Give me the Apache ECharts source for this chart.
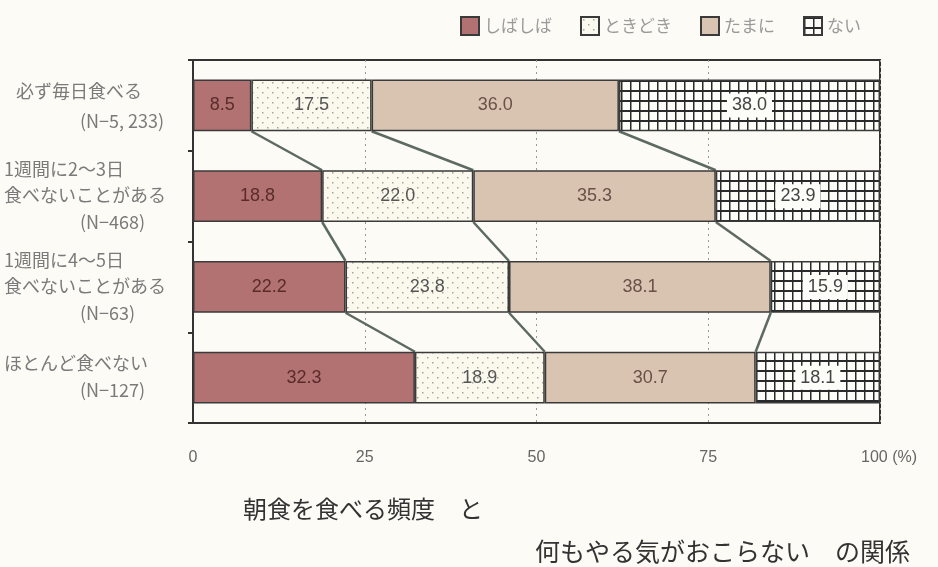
<!DOCTYPE html>
<html><head><meta charset="utf-8">
<script src="https://cdn.jsdelivr.net/npm/echarts@6/dist/echarts.min.js"></script>
<style>html,body{margin:0;padding:0;background:#fcfbf6}#c{width:938px;height:567px}</style>
</head><body><div id="c"></div>
<script>
// ---- data ----
const categories = ['必ず毎日食べる', '1週間に2〜3日食べないことがある', '1週間に4〜5日食べないことがある', 'ほとんど食べない'];
const categoryLines = [['必ず毎日食べる'], ['1週間に2〜3日', '食べないことがある'], ['1週間に4〜5日', '食べないことがある'], ['ほとんど食べない']];
const sampleSizes = ['(N−5, 233)', '(N−468)', '(N−63)', '(N−127)'];
const seriesNames = ['しばしば', 'ときどき', 'たまに', 'ない'];
const shibashiba = [8.5, 18.8, 22.2, 32.3];
const tokidoki = [17.5, 22.0, 23.8, 18.9];
const tamani = [36.0, 35.3, 38.1, 30.7];
const nai = [38.0, 23.9, 15.9, 18.1];
const xTicks = [0, 25, 50, 75, 100];
const titleLine1 = '朝食を食べる頻度　と';
const titleLine2 = '何もやる気がおこらない　の関係';

// ---- styles ----
const JP = '"Noto Sans CJK JP", "Noto Sans", sans-serif';
const NUM = '"Liberation Sans Narrow", "Liberation Sans", Arial, sans-serif';
const barRatio = 0.57;

function makeDots() {
  const c = document.createElement('canvas'); c.width = 10; c.height = 10;
  const g = c.getContext('2d');
  g.fillStyle = '#fbf9ee'; g.fillRect(0, 0, 10, 10);
  g.fillStyle = '#a5a595';
  g.fillRect(2, 2, 1.5, 1.5); g.fillRect(7, 7, 1.5, 1.5);
  return c;
}
function makeGrid() {
  const c = document.createElement('canvas'); c.width = 9; c.height = 10;
  const g = c.getContext('2d');
  g.fillStyle = '#fcfcf8'; g.fillRect(0, 0, 9, 10);
  g.fillStyle = '#2a2a2a';
  g.fillRect(0, 0, 1.5, 10);
  g.fillRect(0, 0, 9, 2);
  return c;
}
const colors = ['#b27272', { image: makeDots(), repeat: 'repeat' }, '#d9c4b2', { image: makeGrid(), repeat: 'repeat' }];
const labelColors = ['#5a2b2b', '#555', '#6a5048', '#444'];
const seriesData = [shibashiba, tokidoki, tamani, nai];

const cumulative = categories.map((_, i) => {
  let s = 0;
  return [shibashiba[i], tokidoki[i], tamani[i]].map(v => (s += v));
});
const connectorData = [];
for (let b = 0; b < 3; b++) {
  for (let i = 0; i < categories.length - 1; i++) {
    connectorData.push([cumulative[i][b], i, cumulative[i + 1][b], i + 1]);
  }
}

const barSeries = seriesNames.map((name, k) => ({
  name: name,
  type: 'bar',
  stack: 'total',
  barWidth: (barRatio * 100) + '%',
  data: seriesData[k],
  itemStyle: { color: colors[k], borderColor: '#3a3a3a', borderWidth: 1.5 },
  label: {
    show: true,
    position: 'inside',
    formatter: p => p.value.toFixed(1),
    fontFamily: NUM,
    fontSize: 18,
    color: labelColors[k],
    backgroundColor: k === 3 ? '#fcfcf8' : 'transparent',
    padding: k === 3 ? [3, 5] : 0
  },
  z: 3
}));

const chart = echarts.init(document.getElementById('c'), null, { renderer: 'canvas' });
chart.setOption({
  backgroundColor: '#fcfbf6',
  animation: false,
  title: [
    { text: titleLine1, left: 238, top: 492, textStyle: { fontFamily: JP, fontSize: 24, fontWeight: 'normal', color: '#333' } },
    { text: titleLine2, left: 530, top: 534, textStyle: { fontFamily: JP, fontSize: 25, fontWeight: 'normal', color: '#333' } }
  ],
  legend: {
    data: seriesNames,
    left: 455, top: 11,
    itemWidth: 18, itemHeight: 18, itemGap: 28,
    icon: 'rect',
    textStyle: { fontFamily: JP, fontSize: 17, color: '#9a9a9a' }
  },
  grid: { left: 193, right: 58, top: 60, bottom: 144, show: true, borderColor: '#333', borderWidth: 2, backgroundColor: 'transparent' },
  xAxis: {
    type: 'value', min: 0, max: 100, interval: 25,
    axisLine: { show: true, lineStyle: { color: '#333', width: 2 } },
    axisTick: { show: false },
    splitLine: { show: true, lineStyle: { color: '#999', type: [2, 4], width: 1 } },
    axisLabel: {
      margin: 27, fontFamily: NUM, fontSize: 16, color: '#666',
      formatter: v => v === 100 ? '{p|100 (%)}' : String(v),
      rich: { p: { fontFamily: NUM, fontSize: 16, color: '#666', padding: [0, 0, 0, 18] } }
    }
  },
  yAxis: {
    type: 'category', inverse: true, data: categories,
    axisLine: { show: true, lineStyle: { color: '#333', width: 2 } },
    axisTick: { show: true, length: 5, lineStyle: { color: '#333', width: 2 } },
    axisLabel: {
      margin: 189, align: 'left',
      formatter: (v, idx) => {
        const lines = categoryLines[idx].map(t => (idx === 0 ? '{a1|' : '{a|') + t + '}');
        lines.push('{n|' + sampleSizes[idx] + '}');
        return lines.join('\n');
      },
      rich: {
        a: { fontFamily: JP, fontSize: 18, color: '#7a7a7a', lineHeight: 26 },
        a1: { fontFamily: JP, fontSize: 18, color: '#7a7a7a', lineHeight: 32, padding: [0, 0, 0, 12] },
        n: { fontFamily: JP, fontSize: 18, color: '#7a7a7a', lineHeight: 28, padding: [0, 0, 0, 76] }
      }
    }
  },
  series: barSeries.concat([{
    name: 'connector',
    type: 'custom',
    data: connectorData,
    encode: { x: [0, 2], y: [1, 3] },
    z: 2,
    silent: true,
    renderItem: (params, api) => {
      const p1 = api.coord([api.value(0), api.value(1)]);
      const p2 = api.coord([api.value(2), api.value(3)]);
      const half = api.size([0, 1])[1] * barRatio / 2;
      return {
        type: 'line',
        shape: { x1: p1[0], y1: p1[1] + half, x2: p2[0], y2: p2[1] - half },
        style: { stroke: '#5d6a62', lineWidth: 2.5 }
      };
    }
  }])
});
</script>
</body></html>
